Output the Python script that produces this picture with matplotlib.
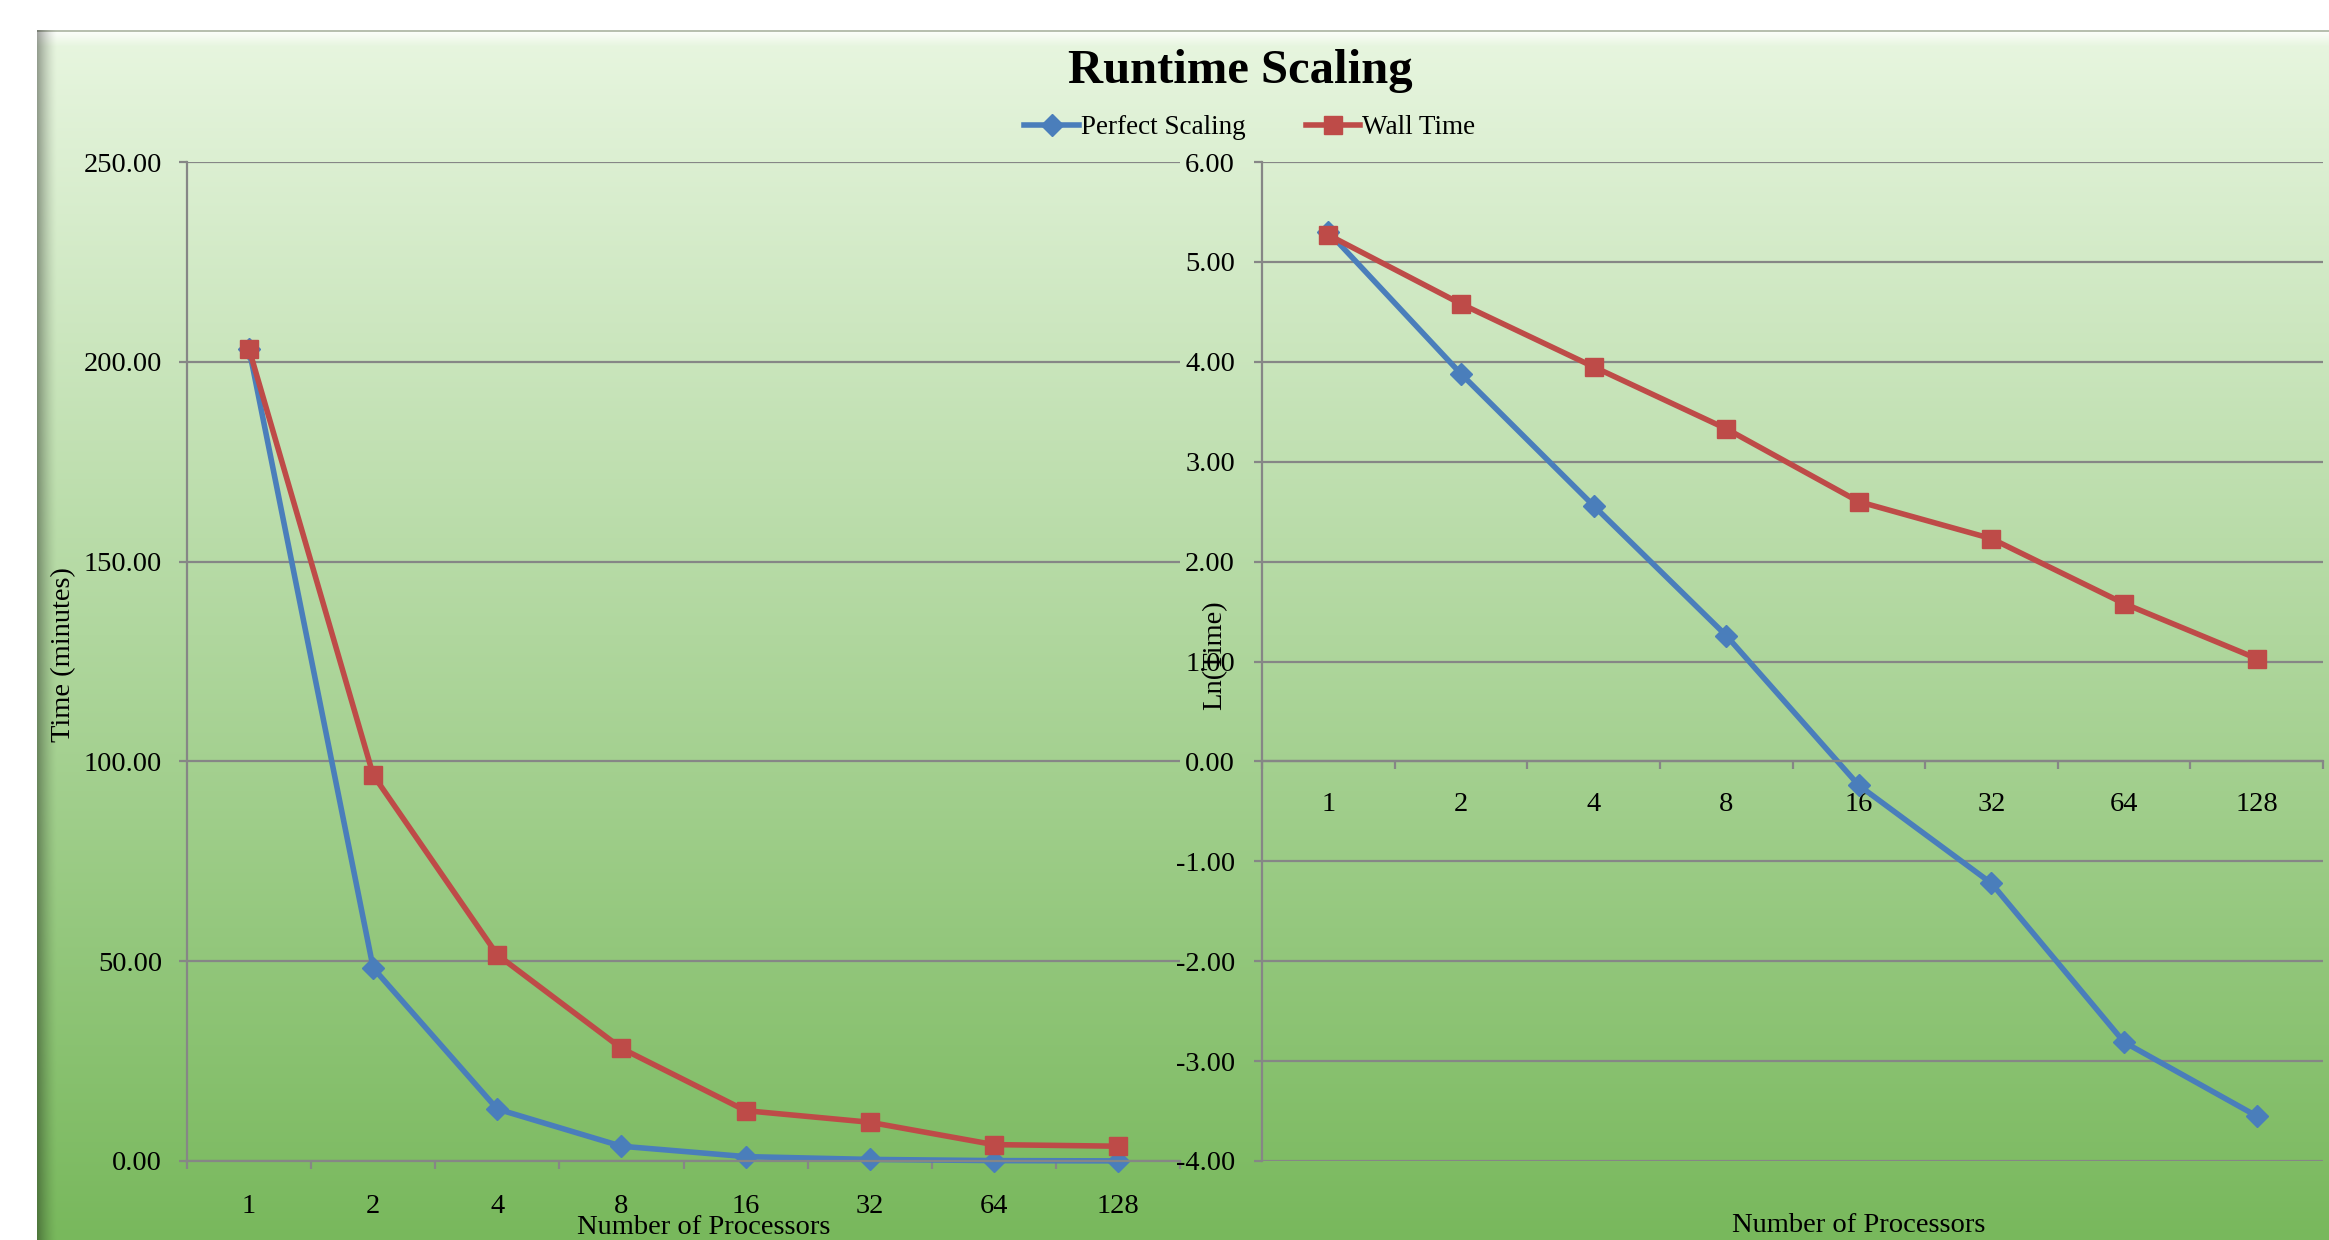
import numpy as np
import matplotlib
matplotlib.use("Agg")
import matplotlib.pyplot as plt
from matplotlib.lines import Line2D

plt.rcParams['font.family'] = ['Liberation Serif', 'DejaVu Serif']

processors = ['1', '2', '4', '8', '16', '32', '64', '128']

# minutes
perfect_minutes = [203.2, 48.3, 13.0, 3.7, 1.1, 0.4, 0.1, 0.03]
wall_minutes = [203.2, 96.6, 51.6, 28.2, 12.6, 9.7, 4.1, 3.7]

# natural log of the minutes
perfect_ln = [5.30, 3.88, 2.56, 1.26, -0.24, -1.22, -2.81, -3.55]
wall_ln = [5.27, 4.58, 3.95, 3.33, 2.60, 2.23, 1.58, 1.03]

W, H = 2329, 1240
fig = plt.figure(figsize=(W / 100, H / 100), dpi=100)

# background panel: vertical green gradient with a bevelled edge
img = np.ones((H, W, 3))
top = np.array([232, 246, 224]) / 255
bot = np.array([120, 184, 92]) / 255
y0, x0 = 30, 37
t = np.linspace(0, 1, H - y0)[:, None]
img[y0:, x0:] = (top + (bot - top) * t)[:, None, :]
# top highlight
for i in range(16):
    a = 1 - i / 16
    if i < 2:
        img[y0 + i, x0:] = [0.72, 0.75, 0.69]
    else:
        img[y0 + i, x0:] = img[y0 + i, x0:] * (1 - a * 0.9) + a * 0.9
# left shading
for j in range(20):
    a = (1 - j / 20) ** 1.5
    img[y0:, x0 + j] = img[y0:, x0 + j] * (1 - 0.35 * a)
bg = fig.add_axes([0, 0, 1, 1], zorder=-10)
bg.imshow(img, aspect='auto', interpolation='bilinear')
bg.axis('off')

blue = '#4a7ebb'
red = '#be4b48'
grid_c = '#868686'
fs = 20.5
lw = 4.0


def px(x, y, w, h):
    return [x / W, 1 - (y + h) / H, w / W, h / H]


def style(ax):
    ax.set_facecolor('none')
    for s in ('top', 'right'):
        ax.spines[s].set_visible(False)
    for s in ('left', 'bottom'):
        ax.spines[s].set_color(grid_c)
        ax.spines[s].set_linewidth(1.6)
    ax.grid(axis='y', color=grid_c, linewidth=1.6)
    ax.set_axisbelow(True)
    ax.set_xlim(0, len(processors))
    ax.set_xticks(np.arange(len(processors)) + 0.5)
    ax.set_xticklabels(processors, fontsize=fs)
    ax.set_xticks(np.arange(len(processors) + 1), minor=True)
    ax.tick_params(axis='x', which='major', length=0)
    ax.tick_params(axis='x', which='minor', length=6, width=1.6, color=grid_c)
    ax.tick_params(axis='y', length=6, width=1.6, color=grid_c, labelsize=fs)
    ax.yaxis.set_major_formatter(matplotlib.ticker.FormatStrFormatter('%.2f'))


xs = np.arange(len(processors)) + 0.5

ax1 = fig.add_axes(px(187, 162, 993, 999))
style(ax1)
ax1.set_ylim(0, 250)
ax1.set_yticks(np.arange(0, 251, 50))
ax1.tick_params(axis='x', which='major', pad=24)
ax1.tick_params(axis='y', pad=12)
ax1.plot(xs, perfect_minutes, color=blue, lw=lw, marker='D', ms=11, clip_on=False)
ax1.plot(xs, wall_minutes, color=red, lw=lw, marker='s', ms=13, clip_on=False)

ax2 = fig.add_axes(px(1262, 162, 1061, 999))
ax2.spines['bottom'].set_position(('data', 0))
style(ax2)
ax2.set_ylim(-4, 6)
ax2.set_yticks(np.arange(-4, 7, 1))
ax2.tick_params(axis='x', which='major', pad=22)
ax2.tick_params(axis='y', pad=13.5)
ax2.plot(xs, perfect_ln, color=blue, lw=lw, marker='D', ms=11, clip_on=False)
ax2.plot(xs, wall_ln, color=red, lw=lw, marker='s', ms=13, clip_on=False)

fig.text(1240 / W, 1 - 71 / H, 'Runtime Scaling', ha='center', va='center',
         fontsize=35, fontweight='bold')
fig.text(64 / W, 1 - 655 / H, 'Time (minutes)', rotation=90, ha='center',
         va='center', fontsize=fs)
fig.text(1215 / W, 1 - 655 / H, 'Ln(Time)', rotation=90, ha='center',
         va='center', fontsize=fs)
fig.text(704 / W, 1 - 1228 / H, 'Number of Processors', ha='center',
         va='center', fontsize=fs)
fig.text(1859 / W, 1 - 1226 / H, 'Number of Processors', ha='center',
         va='center', fontsize=fs)

handles = [Line2D([], [], color=blue, lw=lw, marker='D', ms=11),
           Line2D([], [], color=red, lw=lw, marker='s', ms=13)]
fig.legend(handles, ['Perfect Scaling', 'Wall Time'], loc='center',
           bbox_to_anchor=(1250 / W, 1 - 128 / H), ncol=2, frameon=False,
           fontsize=19.5, handlelength=2.0, handletextpad=0.1,
           columnspacing=2.2)

fig.savefig('out.png', dpi=100)
